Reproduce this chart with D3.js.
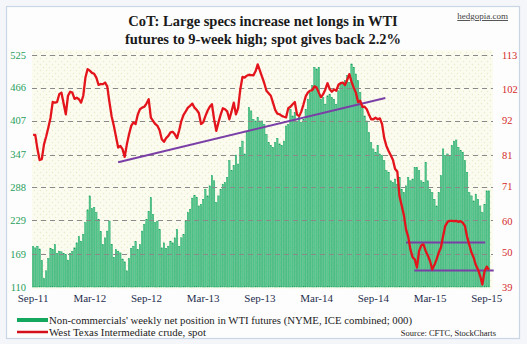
<!DOCTYPE html>
<html>
<head>
<meta charset="utf-8">
<script src="https://cdn.jsdelivr.net/npm/d3@7/dist/d3.min.js"></script>
<style>
html,body{margin:0;padding:0;background:#fff;}
svg{display:block;}
</style>
</head>
<body>
<svg id="chart" width="527" height="344"></svg>
<script>
// ---------- DATA ----------
const startWeek = "2011-09-06"; // first weekly CoT report shown
const netLongs = [
182,180,183,178,157,125,139,161,179,177,186,170,174,173,170,168,158,170,174,180,
189,200,192,204,225,248,273,250,252,243,231,209,186,198,210,228,186,163,177,174,
171,160,155,139,161,179,183,191,177,186,210,222,231,245,270,240,225,228,213,180,
189,179,183,192,189,198,213,183,198,204,228,243,249,269,274,270,255,258,267,285,
273,291,309,300,261,273,285,294,297,306,336,318,327,346,330,360,371,348,386,431,
425,410,407,413,407,407,401,383,368,363,360,368,376,366,363,371,398,401,428,416,
422,407,413,404,410,428,446,458,470,503,500,503,446,449,437,452,455,449,446,437,
461,473,476,479,488,476,509,503,491,479,458,431,416,407,386,368,357,351,363,348,
345,336,318,315,300,297,303,294,306,285,279,291,306,300,303,324,324,318,300,297,
333,300,285,279,267,255,279,309,357,345,348,345,363,371,373,360,354,351,336,315,
279,273,264,276,267,255,243,258,282,282
];
const wtiSpot = [
87.5,87.5,83,79.5,79.8,84.5,87,89.9,93,98,97.8,98,100.5,101,97.5,94.1,100,101.3,101,99,
99.4,98.9,97.8,100,105.8,108.5,108,107.3,107,105.8,103.5,103.7,103.7,104.2,103,98,93.5,90.5,87,83.5,
84,83,80.5,84.5,87.7,90.4,91.5,91,94,95.7,96.2,96.5,97.5,98.9,93,92,91,90.4,89,86.1,
85.3,86.5,87.2,88.3,88.5,87.7,86.5,89,92,93.9,95,96.2,96.8,97.5,96.2,95.5,94.5,91,91.5,93.5,
95.2,96.5,97.3,92.5,88.8,91.5,94,96,95.7,95,92.5,95,97.8,94.1,96,102,106,105.8,106.4,106.7,
106.6,106.5,107.8,110,108,106,104,101.6,100.8,100,97.8,95.5,94.3,94.1,93.6,93.3,93.1,96,96.5,97.3,
98,94,93.5,95,97.3,99.8,101,101.6,101.8,103,102.6,101,99.5,100.5,102,104,102.1,101.3,102,101.6,
103.5,104,104.2,103.4,105,106.9,104.5,102.6,101,98,98.4,96.5,96.5,95.7,94,92.5,92.5,93,92.5,92.8,
91,86.5,84,82.4,81,79.5,76.6,75.8,68,65,62,57.4,55,51,48.5,47.8,45.2,50.5,52.3,52.6,
50.5,49,47.3,44.6,46,47.8,50,51.6,55.3,58.5,59.7,60.1,60.1,60,60.1,59.8,60,59.5,58.5,55,
52.5,50,48.4,46,44.6,42.5,39.8,44,45.5,44.5
];
// trend lines on the spot price (week index, price)
const trendRising = [[39, 78.8], [161.5, 99.3]];
const rangeTop    = [[171, 53.2], [207.3, 53.2]];
const rangeBottom = [[174.8, 44.3], [211.2, 44.3]];

const leftTicks  = [110, 169, 229, 288, 347, 407, 466, 525];
const rightTicks = [39, 50, 60, 71, 81, 92, 102, 113];
const xTickDates = ["2011-09-06","2012-03-06","2012-09-04","2013-03-05","2013-09-03",
                    "2014-03-04","2014-09-02","2015-03-03","2015-09-01"];

const titleLines = ["CoT:  Large specs increase net longs in WTI",
                    "futures to 9-week high; spot gives back 2.2%"];
const legendLabels = ["Non-commercials' weekly net position in WTI futures (NYME, ICE combined; 000)",
                      "West Texas Intermediate crude, spot"];
const sourceText = "Source: CFTC, StockCharts";
const siteText = "hedgopia.com";

// ---------- CHART ----------
const svg = d3.select("#chart");
const W = 527, H = 344;
const plot = {l: 32, r: 493, t: 50, b: 289};
const parse = d3.timeParse("%Y-%m-%d");
const t0 = parse(startWeek);
const weeks = netLongs.map((_, i) => d3.timeDay.offset(t0, 7 * i));

const x = d3.scaleTime()
  .domain([d3.timeHour.offset(weeks[0], -84), d3.timeHour.offset(weeks[weeks.length - 1], 84)])
  .range([32, 490]);
const xi = d3.scaleLinear().domain([0, weeks.length - 1]).range([x(weeks[0]), x(weeks[weeks.length - 1])]);
const yL = d3.scaleLinear().domain([110, 525]).range([287, 55]);
const yR = d3.scaleLinear().domain([39, 113]).range([287, 55]);

const defs = svg.append("defs");
const pat = defs.append("pattern").attr("id", "dots").attr("patternUnits", "userSpaceOnUse")
  .attr("width", 6).attr("height", 6);
pat.append("rect").attr("width", 6).attr("height", 6).attr("fill", "#fbfbef");
pat.append("circle").attr("cx", 1.5).attr("cy", 1.5).attr("r", 0.7).attr("fill", "#ecebc8");
pat.append("circle").attr("cx", 4.5).attr("cy", 4.5).attr("r", 0.7).attr("fill", "#ecebc8");

// outer frame
svg.append("rect").attr("x", 0).attr("y", 0).attr("width", W).attr("height", H).attr("fill", "#f4f6f9");
svg.append("rect").attr("x", 6.5).attr("y", 6.5).attr("width", 513).attr("height", 332)
  .attr("fill", "#fdfdfd").attr("stroke", "#c9d6e4").attr("stroke-width", 1.2);

// plot background
svg.append("rect").attr("x", plot.l).attr("y", plot.t).attr("width", plot.r - plot.l)
  .attr("height", plot.b - plot.t).attr("fill", "url(#dots)");

// bars
const bw = 1.4;
svg.append("g").selectAll("rect").data(netLongs).join("rect")
  .attr("x", (d, i) => x(weeks[i]) - bw / 2)
  .attr("y", d => yL(d))
  .attr("width", bw)
  .attr("height", d => yL(110) - yL(d))
  .attr("fill", "#5bcb93")
  .attr("stroke", "#13a05b")
  .attr("stroke-width", 0.45);

// gridlines (dashed)
svg.append("g").selectAll("line").data(leftTicks.slice(1)).join("line")
  .attr("x1", plot.l).attr("x2", plot.r)
  .attr("y1", d => Math.round(yL(d)) + 0.5).attr("y2", d => Math.round(yL(d)) + 0.5)
  .attr("stroke", "#8a8a8a").attr("stroke-width", 1).attr("stroke-dasharray", "5,4");

// left axis labels
svg.append("g").selectAll("text").data(leftTicks).join("text")
  .attr("x", 26).attr("y", d => yL(d) + 3.5)
  .attr("text-anchor", "end")
  .attr("font-family", "Liberation Serif, serif").attr("font-size", 10.5)
  .attr("fill", "#1f9e5c").text(d => d);

// right axis labels
svg.append("g").selectAll("text").data(rightTicks).join("text")
  .attr("x", 502).attr("y", d => yR(d) + 3.5)
  .attr("text-anchor", "start")
  .attr("font-family", "Liberation Serif, serif").attr("font-size", 10.5)
  .attr("fill", "#d42a2a").text(d => d);

// x axis labels
const fmt = d3.timeFormat("%b-%y");
svg.append("g").selectAll("text").data(xTickDates.map(parse)).join("text")
  .attr("x", d => x(d)).attr("y", 302)
  .attr("text-anchor", "middle")
  .attr("font-family", "Liberation Serif, serif").attr("font-size", 11)
  .attr("fill", "#1f2d4d").text(d => fmt(d));

// purple trend lines
const tl = d3.line().x(d => xi(d[0])).y(d => yR(d[1]));
[trendRising, rangeTop, rangeBottom].forEach(seg => {
  svg.append("path").attr("d", tl(seg)).attr("fill", "none")
    .attr("stroke", "#7a3fa6").attr("stroke-width", 2);
});

// red spot line
const line = d3.line().x((d, i) => x(weeks[i])).y(d => yR(d)).curve(d3.curveLinear);
svg.append("path").datum(wtiSpot).attr("d", line).attr("fill", "none")
  .attr("stroke", "#e3141c").attr("stroke-width", 2.3).attr("stroke-linejoin", "round");

// title
svg.append("g").selectAll("text").data(titleLines).join("text")
  .attr("x", 263).attr("y", (d, i) => 26 + i * 18)
  .attr("text-anchor", "middle")
  .attr("font-family", "Liberation Serif, serif").attr("font-weight", "bold").attr("font-size", 14.5)
  .attr("fill", "#1a1a1a").text(d => d);

// site
svg.append("text").attr("x", 508).attr("y", 19).attr("text-anchor", "end")
  .attr("font-family", "Liberation Serif, serif").attr("font-size", 9)
  .attr("fill", "#444").attr("text-decoration", "underline").text(siteText);

// legend
const legColors = ["#14a85e", "#d4101c"];
const legY = [320, 332];
legendLabels.forEach((lab, i) => {
  svg.append("line").attr("x1", 17).attr("x2", 48).attr("y1", legY[i]).attr("y2", legY[i])
    .attr("stroke", legColors[i]).attr("stroke-width", i === 0 ? 4 : 2.5);
  svg.append("text").attr("x", 49).attr("y", legY[i] + 3.5)
    .attr("font-family", "Liberation Serif, serif").attr("font-size", 10.5)
    .attr("fill", "#222").attr("textLength", i === 0 ? 363 : 157).attr("lengthAdjust", "spacingAndGlyphs")
    .text(lab);
});
svg.append("text").attr("x", 496).attr("y", legY[1] + 3.5).attr("text-anchor", "end")
  .attr("font-family", "Liberation Serif, serif").attr("font-size", 8.5)
  .attr("fill", "#222").text(sourceText);
</script>
</body>
</html>
